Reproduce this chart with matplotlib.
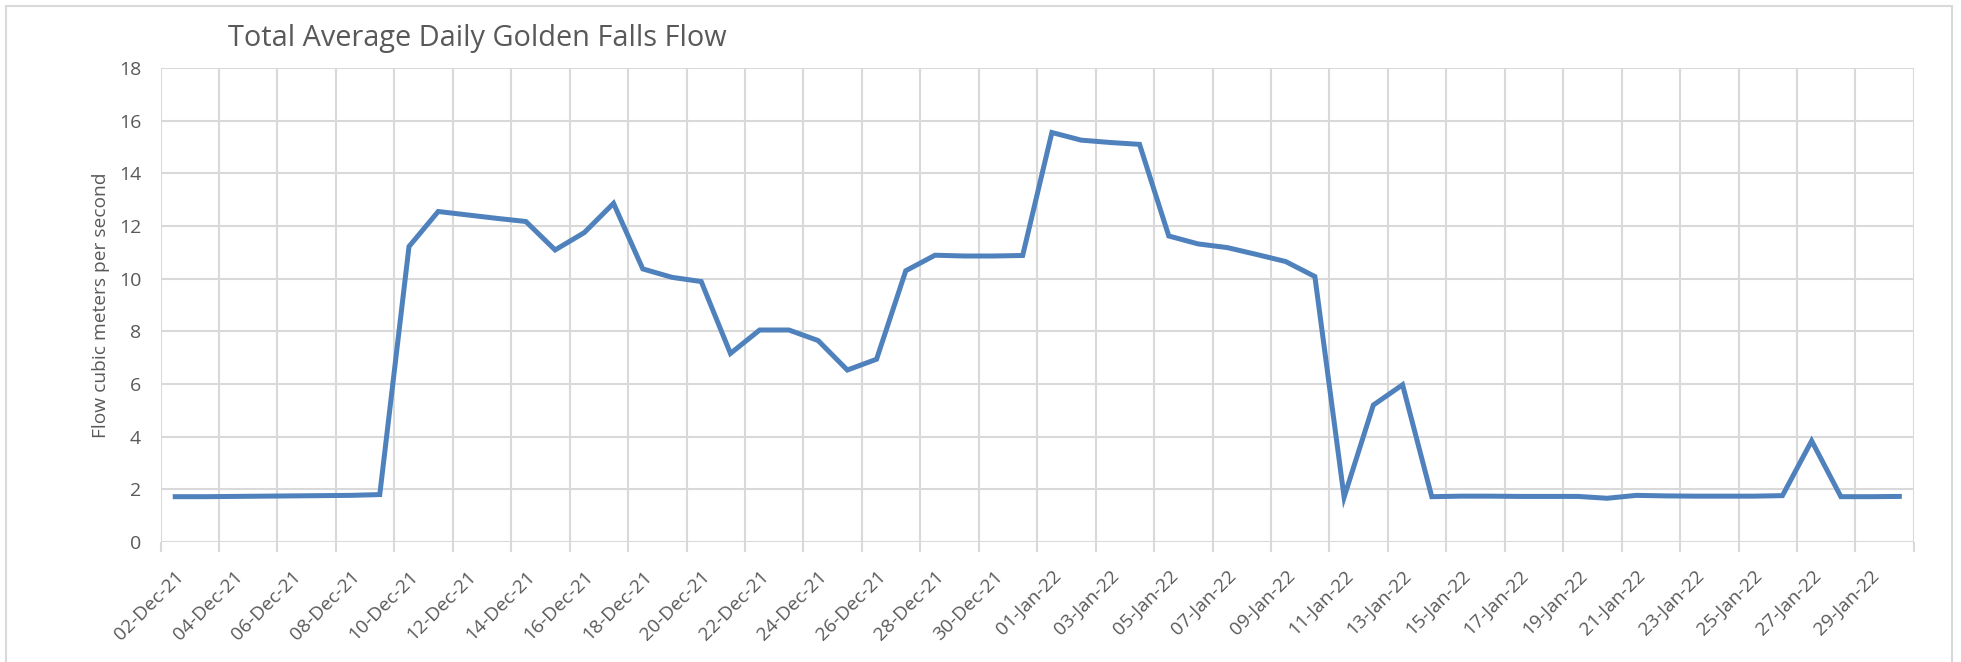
import numpy as np
import pandas as pd
import matplotlib
matplotlib.use("Agg")
import matplotlib.pyplot as plt
from matplotlib.patches import Rectangle

# Daily average flow, 02-Dec-21 .. 30-Jan-22
dates = pd.date_range("2021-12-02", "2022-01-30", freq="D")
flow = [1.72, 1.72, 1.73, 1.74, 1.75, 1.76, 1.77, 1.80,
        11.22, 12.55, 12.42, 12.29, 12.17, 11.09, 11.75, 12.86,
        10.37, 10.05, 9.89, 7.16, 8.05, 8.05, 7.65, 6.53, 6.94,
        10.30, 10.89, 10.86, 10.86, 10.88,
        15.55, 15.26, 15.17, 15.10, 11.62, 11.32, 11.18, 10.92, 10.65, 10.08,
        1.70, 5.20, 5.97,
        1.72, 1.74, 1.74, 1.73, 1.73, 1.73, 1.66, 1.77, 1.75, 1.74, 1.74,
        1.74, 1.76, 3.84, 1.72, 1.72, 1.73]
labels = [d.strftime("%d-%b-%y") for d in dates]
yticks = [0, 2, 4, 6, 8, 10, 12, 14, 16, 18]

plt.rcParams['font.family'] = ['Open Sans', 'DejaVu Sans']
txt = '#595959'
grid = '#d9d9d9'

fig = plt.figure(figsize=(19.61, 6.62), dpi=100)
ax = fig.add_axes([0.0819, 0.1813, 0.8941, 0.716])

x = np.arange(len(flow))
ax.plot(x, flow, color='#4f81bd', lw=3.6, solid_joinstyle='miter', zorder=3)

ax.set_xlim(-0.5, len(flow) - 0.5)
ax.set_ylim(0, 18)
ax.set_yticks(yticks)
ax.set_xticks(x[::2])
ax.set_xticklabels(labels[::2], rotation=45, ha='right', va='top',
                   rotation_mode='anchor')
ax.set_xticks(np.arange(-0.5, len(flow), 2), minor=True)

ax.tick_params(axis='x', which='major', length=0, pad=18, labelsize=13.8, labelcolor=txt)
ax.tick_params(axis='x', which='minor', length=7, width=1.5, color=grid)
ax.tick_params(axis='y', length=0, pad=14, labelsize=14, labelcolor=txt)

ax.grid(True, axis='y', color=grid, lw=1.5)
ax.grid(True, axis='x', which='minor', color=grid, lw=1.5)
for s in ax.spines.values():
    s.set_visible(False)

ax.set_ylabel('Flow cubic meters per second', fontsize=13.8, color=txt, labelpad=6)
fig.text(228 / 1961, 1 - 46 / 662, 'Total Average Daily Golden Falls Flow',
         fontsize=20.8, color=txt, ha='left', va='baseline')

fig.patches.append(Rectangle((6 / 1961, -0.05), 1946 / 1961, 1.05 - 6 / 662,
                             transform=fig.transFigure, fill=False,
                             edgecolor=grid, lw=1.5))

fig.savefig('out.png', dpi=100, facecolor='white')
